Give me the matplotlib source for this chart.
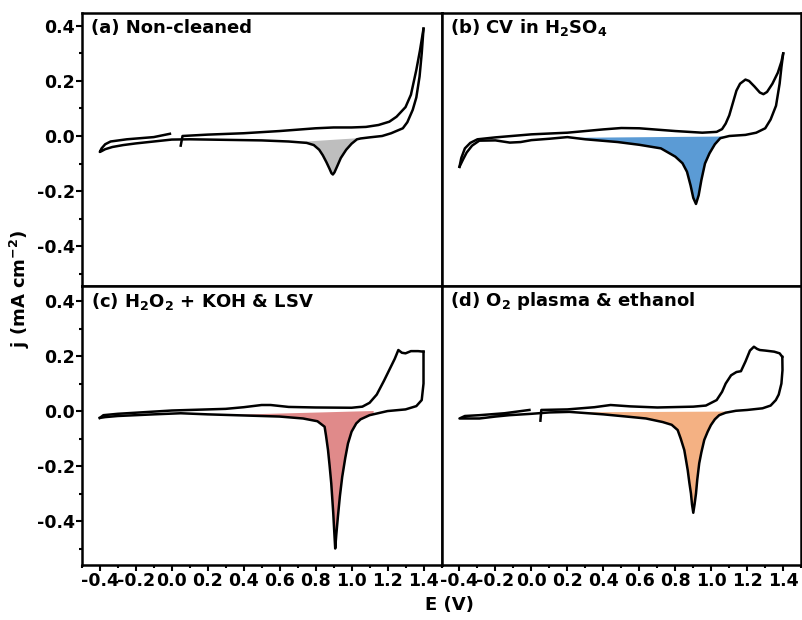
import numpy as np
import matplotlib.pyplot as plt

plt.rcParams['font.family'] = 'DejaVu Sans'
plt.rcParams['font.weight'] = 'bold'
plt.rcParams['mathtext.default'] = 'bf'
plt.rcParams['axes.unicode_minus'] = False

# (a) Non-cleaned
e_fwd_a = [0.05, 0.06, 0.2, 0.4, 0.6, 0.8, 0.9, 1.0, 1.08, 1.15, 1.21, 1.25, 1.30, 1.33, 1.36, 1.38, 1.40]
j_fwd_a = [-0.035, 0.0, 0.005, 0.01, 0.018, 0.028, 0.031, 0.031, 0.033, 0.040, 0.052, 0.07, 0.105, 0.15, 0.24, 0.31, 0.39]
e_rev_a = [1.40, 1.39, 1.378, 1.36, 1.34, 1.31, 1.285, 1.22, 1.17, 1.10, 1.05, 1.03, 1.0, 0.97, 0.94, 0.92, 0.905, 0.896,
           0.888, 0.878, 0.86, 0.84, 0.82, 0.79, 0.75, 0.65, 0.5, 0.3, 0.1, 0.0, -0.1, -0.2, -0.27, -0.33, -0.37,
           -0.39, -0.40, -0.39, -0.37, -0.34, -0.25, -0.1, -0.01]
j_rev_a = [0.39, 0.30, 0.216, 0.14, 0.095, 0.05, 0.028, 0.01, 0.0, -0.005, -0.009, -0.012, -0.028, -0.05, -0.08,
           -0.11, -0.132, -0.14, -0.135, -0.12, -0.095, -0.07, -0.05, -0.033, -0.025, -0.02, -0.016, -0.014,
           -0.012, -0.013, -0.02, -0.027, -0.033, -0.04, -0.048, -0.055, -0.058, -0.045, -0.03, -0.02, -0.012,
           -0.004, 0.008]

# (b) CV in H2SO4
e_fwd_b = [-0.40, -0.39, -0.37, -0.34, -0.30, -0.2, 0.0, 0.2, 0.4, 0.5, 0.6, 0.8, 0.95, 1.03, 1.06, 1.08, 1.10,
           1.12, 1.14, 1.16, 1.19, 1.21, 1.24, 1.27, 1.29, 1.31, 1.34, 1.37, 1.39, 1.40]
j_fwd_b = [-0.112, -0.08, -0.045, -0.025, -0.012, -0.005, 0.006, 0.012, 0.024, 0.029, 0.028, 0.018, 0.012, 0.015,
           0.025, 0.045, 0.075, 0.12, 0.165, 0.19, 0.205, 0.2, 0.18, 0.158, 0.152, 0.16, 0.19, 0.23, 0.27, 0.30]
e_rev_b = [1.40, 1.39, 1.38, 1.36, 1.33, 1.30, 1.25, 1.19, 1.10, 1.05, 1.02, 0.99, 0.965, 0.945, 0.93, 0.915,
           0.90, 0.885, 0.865, 0.84, 0.80, 0.72, 0.6, 0.48, 0.3, 0.2, 0.1, 0.0, -0.06, -0.12, -0.2, -0.29, -0.33,
           -0.36, -0.38, -0.40]
j_rev_b = [0.30, 0.25, 0.19, 0.11, 0.06, 0.028, 0.012, 0.004, 0.0, -0.008, -0.03, -0.063, -0.10, -0.16, -0.215,
           -0.247, -0.225, -0.18, -0.13, -0.099, -0.075, -0.045, -0.032, -0.022, -0.012, -0.004, -0.01, -0.015,
           -0.022, -0.024, -0.016, -0.017, -0.035, -0.06, -0.085, -0.112]

# (c) H2O2 + KOH & LSV
e_fwd_c = [-0.40, -0.38, -0.3, -0.2, 0.0, 0.1, 0.3, 0.4, 0.5, 0.55, 0.65, 0.8, 1.0, 1.06, 1.10, 1.14, 1.18, 1.21,
           1.24, 1.26, 1.28, 1.30, 1.33, 1.37, 1.40]
j_fwd_c = [-0.025, -0.015, -0.01, -0.006, 0.002, 0.004, 0.008, 0.014, 0.022, 0.022, 0.015, 0.013, 0.012, 0.016,
           0.03, 0.06, 0.11, 0.15, 0.19, 0.222, 0.212, 0.21, 0.218, 0.218, 0.216]
e_rev_c = [1.40, 1.40, 1.39, 1.36, 1.30, 1.20, 1.10, 1.05, 1.026, 1.0, 0.98, 0.965, 0.948, 0.935, 0.924, 0.915,
           0.909, 0.903, 0.898, 0.887, 0.878, 0.869, 0.858, 0.85, 0.81, 0.73, 0.6, 0.4, 0.2, 0.05, -0.1, -0.2,
           -0.3, -0.37, -0.40]
j_rev_c = [0.216, 0.10, 0.04, 0.018, 0.006, 0.0, -0.015, -0.03, -0.045, -0.075, -0.118, -0.17, -0.239, -0.31,
           -0.384, -0.45, -0.50, -0.43, -0.37, -0.263, -0.20, -0.142, -0.09, -0.057, -0.037, -0.027, -0.02,
           -0.016, -0.012, -0.008, -0.012, -0.015, -0.018, -0.022, -0.025]

# (d) O2 plasma & ethanol
e_fwd_d = [0.05, 0.055, 0.2, 0.35, 0.44, 0.55, 0.7, 0.9, 0.97, 1.03, 1.06, 1.08, 1.11, 1.14, 1.165, 1.19, 1.215,
           1.237, 1.255, 1.27, 1.30, 1.35, 1.38, 1.395]
j_fwd_d = [-0.035, 0.004, 0.006, 0.014, 0.022, 0.017, 0.013, 0.016, 0.02, 0.04, 0.07, 0.1, 0.13, 0.142, 0.145,
           0.18, 0.22, 0.234, 0.226, 0.222, 0.22, 0.216, 0.21, 0.197]
e_rev_d = [1.395, 1.396, 1.39, 1.375, 1.359, 1.33, 1.285, 1.2, 1.137, 1.08, 1.044, 1.02, 0.998, 0.98, 0.961,
           0.945, 0.933, 0.922, 0.915, 0.907, 0.9, 0.893, 0.887, 0.878, 0.869, 0.86, 0.85, 0.83, 0.813, 0.78,
           0.73, 0.637, 0.544, 0.4, 0.211, 0.1, 0.0, -0.122, -0.2, -0.289, -0.35, -0.4, -0.37, -0.289, -0.15,
           -0.011]
j_rev_d = [0.197, 0.149, 0.1, 0.06, 0.04, 0.02, 0.01, 0.004, 0.001, -0.006, -0.015, -0.03, -0.051, -0.075,
           -0.105, -0.15, -0.19, -0.25, -0.3, -0.34, -0.37, -0.34, -0.3, -0.26, -0.215, -0.18, -0.142, -0.1,
           -0.069, -0.05, -0.04, -0.027, -0.021, -0.012, -0.003, -0.005, -0.01, -0.015, -0.02, -0.027, -0.027,
           -0.027, -0.018, -0.015, -0.008, 0.004]

titles = ['(a) Non-cleaned', '(b) CV in H$_2$SO$_4$',
          '(c) H$_2$O$_2$ + KOH & LSV', '(d) O$_2$ plasma & ethanol']
fill_colors = ['#BEBEBE', '#5B9BD5', '#E08A8A', '#F4B183']
# integration baseline: (E start, j start, E end, j end)
baselines = [(0.68, -0.021, 1.04, -0.006),
             (0.19, -0.005, 1.08, 0.0),
             (0.27, -0.013, 1.12, 0.002),
             (0.20, -0.003, 1.10, 0.0)]

curves = [(e_fwd_a, j_fwd_a, e_rev_a, j_rev_a),
          (e_fwd_b, j_fwd_b, e_rev_b, j_rev_b),
          (e_fwd_c, j_fwd_c, e_rev_c, j_rev_c),
          (e_fwd_d, j_fwd_d, e_rev_d, j_rev_d)]

fig = plt.figure(figsize=(8.02, 6.2), dpi=100)
x0, w = 0.102, 0.4485
rows = [(0.5392, 0.4403, (-0.544, 0.448)), (0.0887, 0.4505, (-0.56, 0.456))]

for i in range(4):
    r, c = divmod(i, 2)
    bottom, height, ylim = rows[r]
    ax = fig.add_axes([x0 + c * w, bottom, w, height])
    e_fwd, j_fwd, e_rev, j_rev = curves[i]
    e_rev = np.array(e_rev)
    j_rev = np.array(j_rev)

    # shaded reduction peak between cathodic sweep and baseline
    lo, blo, hi, bhi = baselines[i]
    n_main = int(np.argmin(e_rev)) + 1
    e_main, j_main = e_rev[:n_main], j_rev[:n_main]
    order = np.argsort(e_main)
    inside = np.sort(e_main[(e_main > lo) & (e_main < hi)])
    xs = np.concatenate([[lo], inside, [hi]])
    ys = np.interp(xs, e_main[order], j_main[order])
    line = blo + (xs - lo) * (bhi - blo) / (hi - lo)
    ax.fill_between(xs, np.minimum(ys, line), line, color=fill_colors[i], linewidth=0)

    ax.plot(e_fwd, j_fwd, color='black', linewidth=1.8, solid_joinstyle='round')
    ax.plot(e_rev, j_rev, color='black', linewidth=1.8, solid_joinstyle='round')
    ax.set_xlim(-0.5, 1.5)
    ax.set_ylim(*ylim)
    ax.xaxis.set_minor_locator(plt.MultipleLocator(0.1))
    ax.yaxis.set_minor_locator(plt.MultipleLocator(0.1))
    ax.set_xticks(np.arange(-0.4, 1.41, 0.2))
    ax.set_yticks(np.arange(-0.4, 0.41, 0.2))
    ax.xaxis.set_major_formatter(plt.FormatStrFormatter('%.1f'))
    ax.yaxis.set_major_formatter(plt.FormatStrFormatter('%.1f'))
    for s in ax.spines.values():
        s.set_linewidth(1.8)
    ax.tick_params(which='both', direction='out', width=1.5, labelsize=12.5, pad=1,
                   left=(c == 0), labelleft=(c == 0),
                   bottom=(r == 1), labelbottom=(r == 1))
    ax.tick_params(which='major', length=4)
    ax.tick_params(which='minor', length=2.5)
    ax.text(0.025, 0.945, titles[i], transform=ax.transAxes, fontsize=13,
            fontweight='bold', va='center', ha='left')

fig.text(0.025, 0.534, 'j (mA cm$^{-2}$)', rotation=90, fontsize=13,
         fontweight='bold', ha='center', va='center')
fig.text(0.561, 0.024, 'E (V)', fontsize=13, fontweight='bold', ha='center', va='center')

plt.savefig('out.png', dpi=100)
